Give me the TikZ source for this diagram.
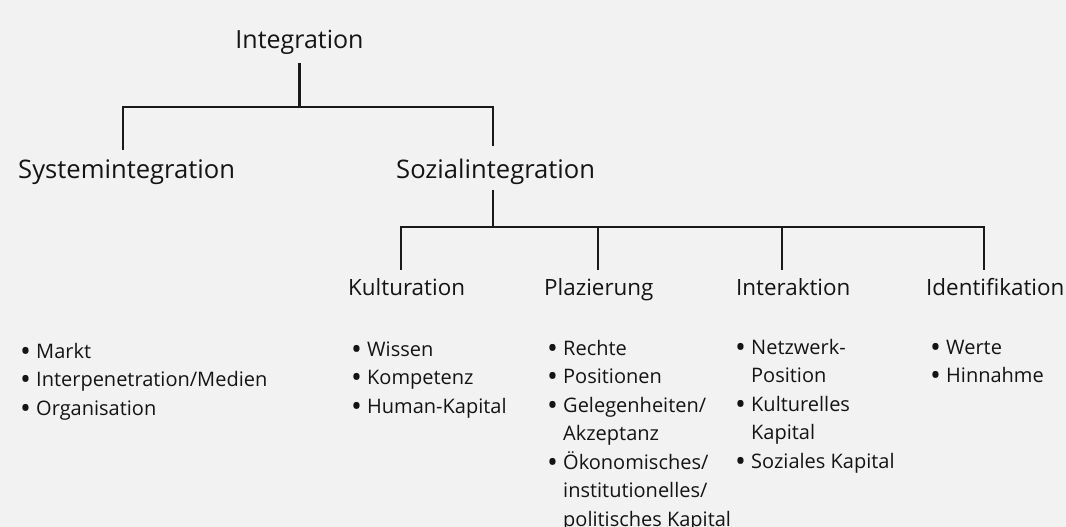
\documentclass[tikz,border=0pt]{standalone}
\usepackage{fontspec}
\setmainfont{Open Sans}
\newcommand{\itembul}{\makebox[16pt][l]{\raisebox{-3.2pt}{\scalebox{1.45}{\textbullet}}}}
\newcommand{\itemind}{\hspace*{16pt}}
\begin{document}
\begin{tikzpicture}[x=1pt,y=1pt,
  conn/.style={line width=2.2pt, draw=black!90},
  lvltop/.style={font=\fontsize{25}{29}\selectfont, inner sep=0pt, anchor=base, text=black!92},
  lvltwo/.style={font=\fontsize{25.6}{29}\selectfont, inner sep=0pt, anchor=base west, text=black!92},
  lvlthree/.style={font=\fontsize{22.4}{26}\selectfont, inner sep=0pt, anchor=base west, text=black!92},
  itemlist/.style={font=\fontsize{20}{28.5}\selectfont, inner sep=0pt, anchor=base west, text=black!92}]
\fill[white!95!black] (0,0) rectangle (1066,-527);
\useasboundingbox (0,0) rectangle (1066,-527);

\node[lvltop] (int) at (299.5,-49) {Integration};
\node[lvltwo] (sys) at (18,-178) {Systemintegration};
\node[lvltwo] (soz) at (396,-178) {Sozialintegration};
\node[lvlthree] (kul) at (348,-295) {Kulturation};
\node[lvlthree] (pla) at (544,-295) {Plazierung};
\node[lvlthree] (ia) at (736,-295) {Interaktion};
\node[lvlthree] (idf) at (926,-295) {Identifikation};

\node[itemlist] (lsys) at (20,-358) {\begin{tabular}[t]{@{}l@{}}\itembul Markt\\ \itembul Interpenetration/Medien\\ \itembul Organisation\end{tabular}};
\node[itemlist] (lkul) at (351,-356) {\begin{tabular}[t]{@{}l@{}}\itembul Wissen\\ \itembul Kompetenz\\ \itembul Human-Kapital\end{tabular}};
\node[itemlist] (lpla) at (547,-355) {\begin{tabular}[t]{@{}l@{}}\itembul Rechte\\ \itembul Positionen\\ \itembul Gelegenheiten/\\ \itemind Akzeptanz\\ \itembul Ökonomisches/\\ \itemind institutionelles/\\ \itemind politisches Kapital\end{tabular}};
\node[itemlist] (lia) at (735,-354) {\begin{tabular}[t]{@{}l@{}}\itembul Netzwerk-\\ \itemind Position\\ \itembul Kulturelles\\ \itemind Kapital\\ \itembul Soziales Kapital\end{tabular}};
\node[itemlist] (lidf) at (930,-354) {\begin{tabular}[t]{@{}l@{}}\itembul Werte\\ \itembul Hinnahme\end{tabular}};

\coordinate (j1) at (299.5,-107);
\coordinate (j1l) at (123,-107);
\coordinate (j1r) at (493,-107);
\draw[conn, shorten <=8pt] (int.south) -- (j1);
\draw[conn, shorten <=9pt, shorten >=12pt] (sys.north -| j1l) -- (j1l) -- (j1r) -- (soz.north -| j1r);

\coordinate (j2) at (493,-227);
\coordinate (j2l) at (401,-227);
\coordinate (j2p) at (598,-227);
\coordinate (j2i) at (782,-227);
\coordinate (j2r) at (984,-227);
\draw[conn, shorten <=6pt] (soz.south -| j2) -- (j2);
\draw[conn, shorten <=8pt, shorten >=8pt] (kul.north -| j2l) -- (j2l) -- (j2r) -- (idf.north -| j2r);
\draw[conn, shorten <=8pt] (pla.north -| j2p) -- (j2p);
\draw[conn, shorten <=8pt] (ia.north -| j2i) -- (j2i);
\end{tikzpicture}
\end{document}
